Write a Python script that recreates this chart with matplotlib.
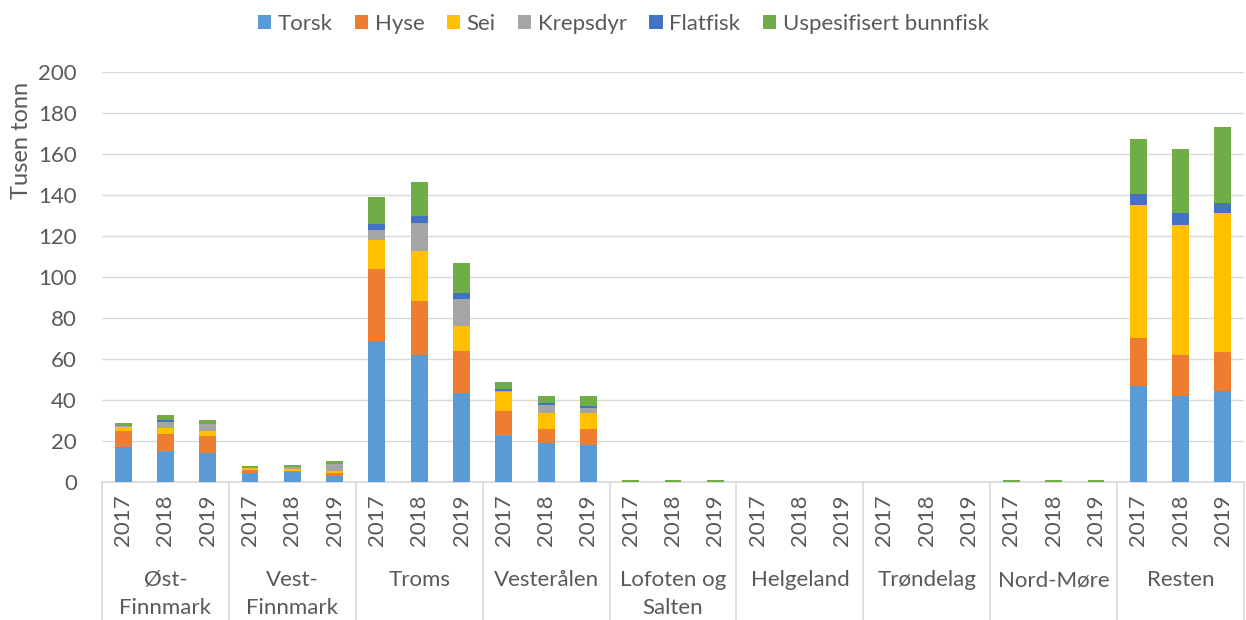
import matplotlib.pyplot as plt
import numpy as np

plt.rcParams['font.family'] = ['Lato', 'DejaVu Sans']

# regions and years
regions = ['Øst-\nFinnmark', 'Vest-\nFinnmark', 'Troms', 'Vesterålen', 'Lofoten og\nSalten',
           'Helgeland', 'Trøndelag', 'Nord-Møre', 'Resten']
years = ['2017', '2018', '2019']

# values in tusen tonn, 3 years per region
torsk = [16.9, 14.5, 14.0, 4.5, 4.7, 3.1, 68.6, 62.0, 43.3, 22.6, 19.0, 18.2,
         0, 0, 0, 0, 0, 0, 0, 0, 0, 0, 0, 0, 47.0, 42.0, 44.4]
hyse = [8.1, 8.8, 8.6, 1.2, 0.5, 1.1, 35.1, 26.1, 20.4, 11.9, 6.7, 7.5,
        0, 0, 0, 0, 0, 0, 0, 0, 0, 0, 0, 0, 23.1, 20.0, 18.9]
sei = [1.8, 3.0, 2.4, 1.0, 1.0, 1.3, 14.3, 24.4, 12.6, 9.4, 8.1, 8.1,
       0, 0, 0, 0, 0, 0, 0, 0, 0, 0, 0, 0, 64.9, 63.4, 68.1]
krepsdyr = [0.3, 3.0, 3.1, 0.1, 1.1, 3.3, 4.9, 13.7, 13.0, 0.5, 3.9, 2.5,
            0, 0, 0, 0, 0, 0, 0, 0, 0, 0, 0, 0, 0, 0, 0]
flatfisk = [0.2, 0.8, 0.3, 0.1, 0.1, 0.1, 3.0, 3.7, 2.7, 0.8, 0.7, 0.9,
            0, 0, 0, 0, 0, 0, 0, 0, 0, 0, 0, 0, 5.6, 5.8, 4.9]
uspesifisert = [1.5, 2.4, 2.0, 0.9, 0.8, 1.3, 13.0, 16.3, 15.0, 3.6, 3.6, 4.8,
                0.8, 0.8, 0.8, 0, 0, 0, 0, 0, 0, 0.8, 0.8, 0.8, 26.9, 31.2, 36.9]

series = [('Torsk', torsk, '#5B9BD5'), ('Hyse', hyse, '#ED7D31'), ('Sei', sei, '#FFC000'),
          ('Krepsdyr', krepsdyr, '#A5A5A5'), ('Flatfisk', flatfisk, '#4472C4'),
          ('Uspesifisert bunnfisk', uspesifisert, '#70AD47')]

fig = plt.figure(figsize=(12.46, 6.2), dpi=100)
ax = fig.add_axes([102 / 1246, 138 / 620, 1142 / 1246, 410 / 620])

x = np.arange(len(torsk))
bottom = np.zeros(len(torsk))
for name, vals, col in series:
    ax.bar(x, vals, 0.4, bottom=bottom, color=col, label=name, zorder=3)
    bottom += np.array(vals)

ax.set_xlim(-0.5, len(torsk) - 0.5)
ax.set_ylim(0, 200)
ax.set_yticks(range(0, 201, 20))
ax.yaxis.grid(True, color='#d9d9d9', lw=1)
ax.tick_params(axis='y', length=0, labelsize=16, labelcolor='#595959', pad=18)
ax.set_xticks([])
for s in ['top', 'right', 'left']:
    ax.spines[s].set_visible(False)
ax.spines['bottom'].set_color('#d9d9d9')
ax.spines['bottom'].set_linewidth(1.2)

# year labels and region labels under the axis
trans = ax.get_xaxis_transform()
for i in range(len(torsk)):
    ax.text(x[i], -0.093, years[i % 3], rotation=90, ha='center', va='center',
            fontsize=16, color='#595959', transform=trans)
for g, reg in enumerate(regions):
    ax.text(g * 3 + 1, -0.215, reg, ha='center', va='top', fontsize=16,
            color='#595959', transform=trans, linespacing=1.5)
for g in range(len(regions) + 1):
    ax.plot([g * 3 - 0.5, g * 3 - 0.5], [0, -0.34], color='#d9d9d9', lw=1.2,
            transform=trans, clip_on=False)

fig.text(22 / 1246, 1 - 140 / 620, 'Tusen tonn', rotation=90, ha='center', va='center',
         fontsize=17, color='#595959')

fig.legend(loc='upper center', bbox_to_anchor=(0.5, 1.01), ncol=6, frameon=False,
           fontsize=16, handlelength=0.6, handleheight=0.6, handletextpad=0.3,
           columnspacing=1.0, labelcolor='#595959')

fig.savefig('out.png', dpi=100)
